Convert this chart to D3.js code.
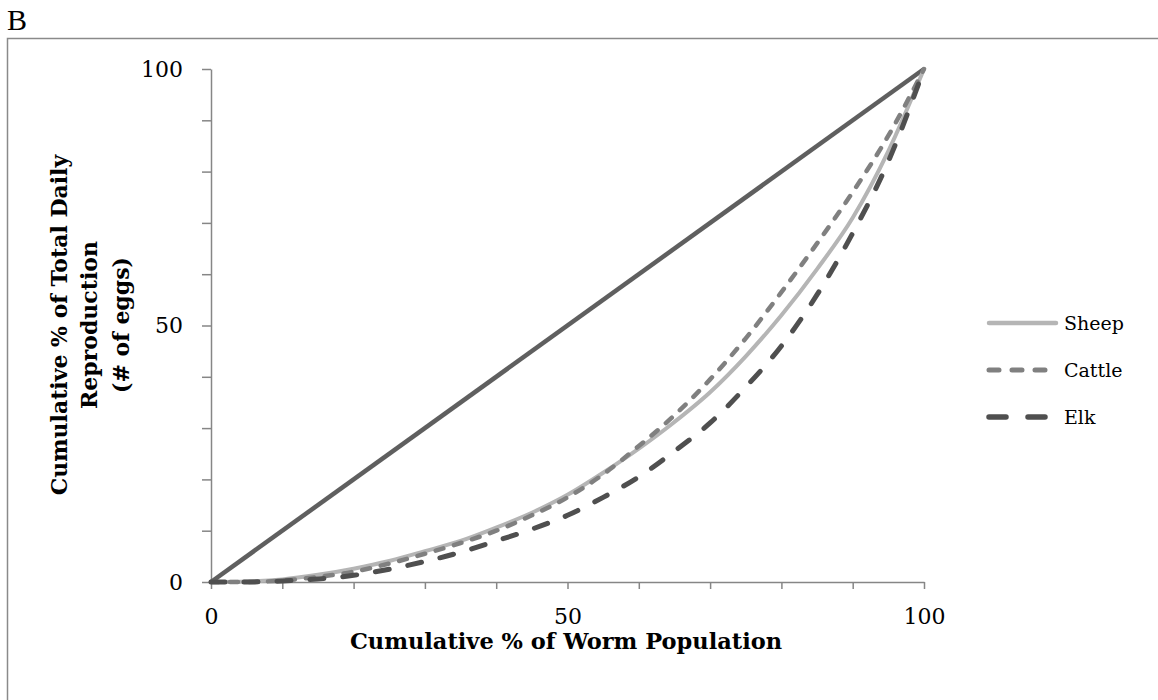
<!doctype html>
<html>
<head>
<meta charset="UTF-8">
<script src="https://d3js.org/d3.v7.min.js"></script>
<style>
  body { margin: 0; background: #fff; }
  svg { display: block; }
  .tick text { font-family: "DejaVu Serif", serif; font-size: 22px; fill: #000; }
  .axis path, .axis line { stroke: #868686; stroke-width: 1.5; }
</style>
</head>
<body>
<svg width="1158" height="700"></svg>
<script>
// cumulative % of worm population (x) vs cumulative % of eggs (y)
var xPct = [0, 5, 10, 15, 20, 25, 30, 35, 40, 45, 50, 55, 60, 65, 70, 75, 80, 85, 90, 95, 100];
var sheep = [0, 0.1, 0.5, 1.4, 2.6, 4.1, 6, 8, 10.6, 13.5, 17, 21.3, 26, 31.2, 37, 44, 52, 61, 71, 84, 100];
var cattle = [0, 0, 0.3, 1, 2, 3.6, 5.5, 7.6, 10, 13, 16.5, 21, 26.5, 32.5, 39.5, 47.5, 56.5, 66, 76, 87, 100];
var elk = [0, 0, 0.2, 0.6, 1.3, 2.5, 4, 5.8, 8, 10.3, 13, 16.5, 20.5, 25.5, 31, 38, 46, 56, 68, 82, 100];
var equality = [0, 100];
var equalityX = [0, 100];
var tickVals = [0, 10, 20, 30, 40, 50, 60, 70, 80, 90, 100];
var tickLabels = ["0", "", "", "", "", "50", "", "", "", "", "100"];
var seriesNames = ["Sheep", "Cattle", "Elk"];

var svg = d3.select("svg");

// panel letter and frame
svg.append("text")
  .attr("x", 7).attr("y", 30)
  .style("font-family", "Liberation Serif, serif")
  .style("font-size", "30px")
  .text("B");

svg.append("path")
  .attr("d", "M7.5,720 V38.5 H1180")
  .attr("fill", "none")
  .attr("stroke", "#8a8a8a")
  .attr("stroke-width", 1.5);

var x = d3.scaleLinear().domain([0, 100]).range([211, 924]);
var y = d3.scaleLinear().domain([0, 100]).range([582, 69]);

var labelOf = function(d) { return tickLabels[tickVals.indexOf(d)]; };

svg.append("g")
  .attr("class", "axis")
  .attr("transform", "translate(0,582)")
  .call(d3.axisBottom(x).tickValues(tickVals).tickFormat(labelOf).tickSize(7).tickPadding(19).tickSizeOuter(0));

svg.append("g")
  .attr("class", "axis")
  .attr("transform", "translate(211,0)")
  .call(d3.axisLeft(y).tickValues(tickVals).tickFormat(labelOf).tickSize(9).tickPadding(19).tickSizeOuter(0));

// axis titles
svg.append("text")
  .attr("x", 566).attr("y", 649)
  .attr("text-anchor", "middle")
  .style("font-family", "DejaVu Serif, serif")
  .style("font-weight", "bold")
  .style("font-size", "22.5px")
  .text("Cumulative % of Worm Population");

var yTitle = ["Cumulative % of Total Daily", "Reproduction", "(# of eggs)"];
var yTitleX = [67, 97, 129];
yTitle.forEach(function(t, i) {
  svg.append("text")
    .attr("transform", "translate(" + yTitleX[i] + ",325) rotate(-90)")
    .attr("text-anchor", "middle")
    .style("font-family", "DejaVu Serif, serif")
    .style("font-weight", "bold")
    .style("font-size", "22px")
    .text(t);
});

var styles = {
  Sheep: { color: "#b5b5b5", width: 4, dash: null },
  Cattle: { color: "#808080", width: 4.5, dash: "8,11" },
  Elk: { color: "#4f4f4f", width: 5, dash: "14,19" }
};
var values = { Sheep: sheep, Cattle: cattle, Elk: elk };

var line = d3.line()
  .x(function(d) { return x(d[0]); })
  .y(function(d) { return y(d[1]); })
  .curve(d3.curveMonotoneX);

svg.append("path")
  .datum(d3.zip(equalityX, equality))
  .attr("d", line)
  .attr("fill", "none")
  .attr("stroke", "#5f5f5f")
  .attr("stroke-width", 4.5);

seriesNames.forEach(function(name) {
  var s = styles[name];
  svg.append("path")
    .datum(d3.zip(xPct, values[name]))
    .attr("d", line)
    .attr("fill", "none")
    .attr("stroke", s.color)
    .attr("stroke-width", s.width)
    .attr("stroke-linecap", "round")
    .attr("stroke-dasharray", s.dash);
});

// legend
var legendY = [323, 370, 417];
var legendDash = { Sheep: null, Cattle: "10,13", Elk: "17,22" };
seriesNames.forEach(function(name, i) {
  var s = styles[name];
  svg.append("line")
    .attr("x1", 989).attr("x2", 1056)
    .attr("y1", legendY[i]).attr("y2", legendY[i])
    .attr("stroke", s.color)
    .attr("stroke-width", s.width + 0.5)
    .attr("stroke-linecap", "round")
    .attr("stroke-dasharray", legendDash[name]);
  svg.append("text")
    .attr("x", 1064).attr("y", legendY[i] + 7)
    .style("font-family", "DejaVu Serif, serif")
    .style("font-size", "19px")
    .text(name);
});
</script>
</body>
</html>
